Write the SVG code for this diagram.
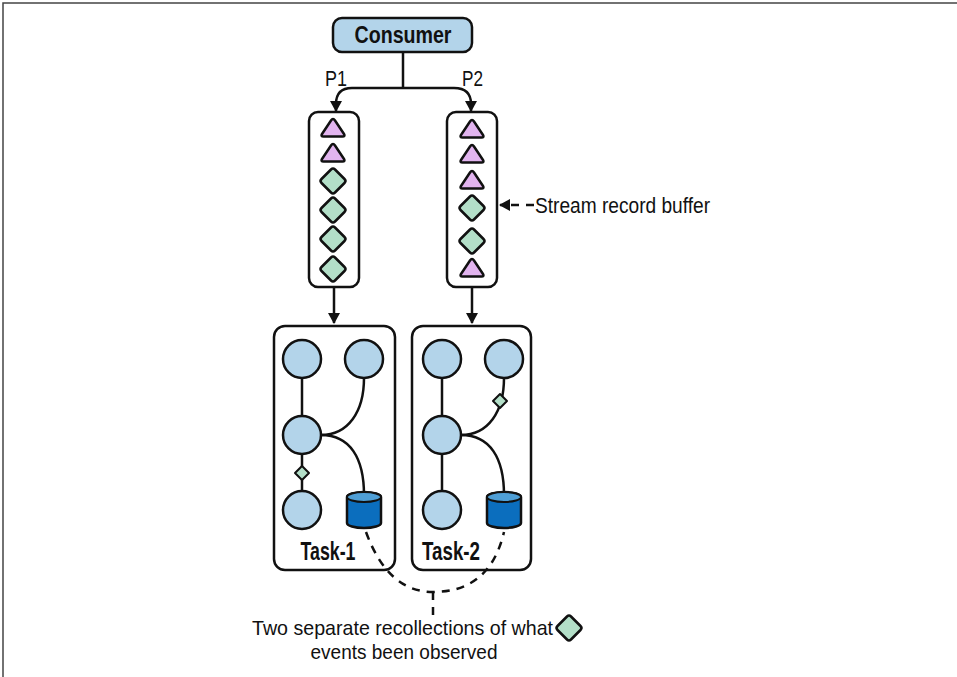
<svg xmlns="http://www.w3.org/2000/svg" width="957" height="677" viewBox="0 0 957 677">
<style>
  .txt { font-family: "Liberation Sans", Arial, sans-serif; fill: #111; }
  .box { fill: #fff; stroke: #111; stroke-width: 2.5; }
  .ln { fill: none; stroke: #111; stroke-width: 2.5; }
  .dash { fill: none; stroke: #111; stroke-width: 2.5; stroke-dasharray: 8 7; }
  .circ { fill: #b3d4ea; stroke: #111; stroke-width: 2.5; }
  .tri { fill: #e2b4ef; stroke: #111; stroke-width: 2.5; stroke-linejoin: round; }
  .dia { fill: #b3dfc8; stroke: #111; stroke-width: 2.5; stroke-linejoin: round; }
  .cyl { fill: #0b6ebe; stroke: #111; stroke-width: 2.5; }
  .cyltop { fill: #4f9fd6; stroke: #111; stroke-width: 2; }
</style>
<defs>
  <marker id="arr" markerWidth="12" markerHeight="12" refX="10" refY="6" orient="auto" markerUnits="userSpaceOnUse">
    <path d="M0,0 L11,6 L0,12 Z" fill="#111"/>
  </marker>
  <path id="triS" d="M-2,-7.5 Q0,-10.5 2,-7.5 L11,6 Q12.5,8.5 9.5,8.5 L-9.5,8.5 Q-12.5,8.5 -11,6 Z"/>
  <path id="diaS" d="M-2,-11.5 Q0,-13.5 2,-11.5 L11.5,-2 Q13.5,0 11.5,2 L2,11.5 Q0,13.5 -2,11.5 L-11.5,2 Q-13.5,0 -11.5,-2 Z"/>
  <path id="diaSm" d="M0,-7 L7,0 L0,7 L-7,0 Z"/>
</defs>

<!-- frame lines -->
<path d="M3,677 V3 H957" fill="none" stroke="#444" stroke-width="1.5"/>

<g id="consumer">
  <rect x="333" y="18" width="139" height="34" rx="9" fill="#b3d4ea" stroke="#111" stroke-width="2.5"/>
  <text class="txt" x="403" y="43" font-size="24" font-weight="bold" text-anchor="middle" textLength="97" lengthAdjust="spacingAndGlyphs">Consumer</text>
</g>
<g id="label-p1"><text class="txt" x="325" y="86" font-size="22" textLength="22" lengthAdjust="spacingAndGlyphs">P1</text></g>
<g id="label-p2"><text class="txt" x="462" y="86" font-size="22" textLength="21" lengthAdjust="spacingAndGlyphs">P2</text></g>

<g id="buffer-p1">
  <rect class="box" x="309" y="112" width="50" height="175" rx="9"/>
  <use href="#triS" class="tri" x="333" y="128"/>
  <use href="#triS" class="tri" x="333" y="153"/>
  <use href="#diaS" class="dia" x="333" y="181"/>
  <use href="#diaS" class="dia" x="333" y="210"/>
  <use href="#diaS" class="dia" x="333" y="239"/>
  <use href="#diaS" class="dia" x="333" y="269"/>
</g>

<g id="buffer-p2">
  <rect class="box" x="447" y="112" width="50" height="175" rx="9"/>
  <use href="#triS" class="tri" x="472" y="129"/>
  <use href="#triS" class="tri" x="472" y="154"/>
  <use href="#triS" class="tri" x="472" y="180"/>
  <use href="#diaS" class="dia" x="472" y="208"/>
  <use href="#diaS" class="dia" x="472" y="241"/>
  <use href="#triS" class="tri" x="472" y="268"/>
</g>

<g id="label-buffer">
  <text class="txt" x="535" y="213" font-size="22" textLength="175" lengthAdjust="spacingAndGlyphs">Stream record buffer</text>
</g>

<g id="task-1">
  <rect class="box" x="274" y="326" width="121" height="244" rx="11"/>
  <path class="ln" d="M302,378 V416"/>
  <path class="ln" d="M302,454 V491"/>
  <path class="ln" d="M364,378 C364,412 348,435 321,435"/>
  <path class="ln" d="M321,435 C350,435 364,458 364,495"/>
  <circle class="circ" cx="302" cy="359" r="19"/>
  <circle class="circ" cx="364" cy="359" r="19"/>
  <circle class="circ" cx="302" cy="435" r="19"/>
  <circle class="circ" cx="302" cy="510" r="19"/>
  <use href="#diaSm" class="dia" x="302" y="473" style="stroke-width:2"/>
  <path class="cyl" d="M347,497 V523 A17,5 0 0 0 381,523 V497 A17,5 0 0 0 347,497 Z"/>
  <ellipse class="cyltop" cx="364" cy="497" rx="17" ry="5"/>
  <text class="txt" x="328" y="560" font-size="26" font-weight="bold" text-anchor="middle" textLength="55" lengthAdjust="spacingAndGlyphs">Task-1</text>
</g>

<g id="task-2">
  <rect class="box" x="412" y="326" width="119" height="244" rx="11"/>
  <path class="ln" d="M442,378 V416"/>
  <path class="ln" d="M442,454 V491"/>
  <path class="ln" d="M504,378 C504,412 488,435 461,435"/>
  <path class="ln" d="M461,435 C490,435 504,458 504,495"/>
  <circle class="circ" cx="442" cy="359" r="19"/>
  <circle class="circ" cx="504" cy="359" r="19"/>
  <circle class="circ" cx="442" cy="435" r="19"/>
  <circle class="circ" cx="442" cy="510" r="19"/>
  <use href="#diaSm" class="dia" x="500" y="401" style="stroke-width:2"/>
  <path class="cyl" d="M487,497 V523 A17,5 0 0 0 521,523 V497 A17,5 0 0 0 487,497 Z"/>
  <ellipse class="cyltop" cx="504" cy="497" rx="17" ry="5"/>
  <text class="txt" x="451" y="560" font-size="26" font-weight="bold" text-anchor="middle" textLength="58" lengthAdjust="spacingAndGlyphs">Task-2</text>
</g>

<g id="label-recollections">
  <text class="txt" x="252" y="635" font-size="21" textLength="301" lengthAdjust="spacingAndGlyphs">Two separate recollections of what</text>
  <use href="#diaS" class="dia" x="569" y="628"/>
  <text class="txt" x="404" y="659" font-size="21" text-anchor="middle" textLength="187" lengthAdjust="spacingAndGlyphs">events been observed</text>
</g>

<g id="connectors">
  <path class="ln" d="M403,52 V88"/>
  <path class="ln" d="M403,88 H352 Q336,88 336,104 V111" marker-end="url(#arr)"/>
  <path class="ln" d="M403,88 H454 Q471,88 471,104 V111" marker-end="url(#arr)"/>
  <path class="ln" d="M334,288 V323" marker-end="url(#arr)"/>
  <path class="ln" d="M472,288 V323" marker-end="url(#arr)"/>
  <path class="dash" d="M534,205 H500" marker-end="url(#arr)"/>
  <path class="dash" d="M366,532 Q388,592 433,592 Q490,592 504,532"/>
  <path class="dash" d="M433,592 V615"/>
</g>
</svg>
